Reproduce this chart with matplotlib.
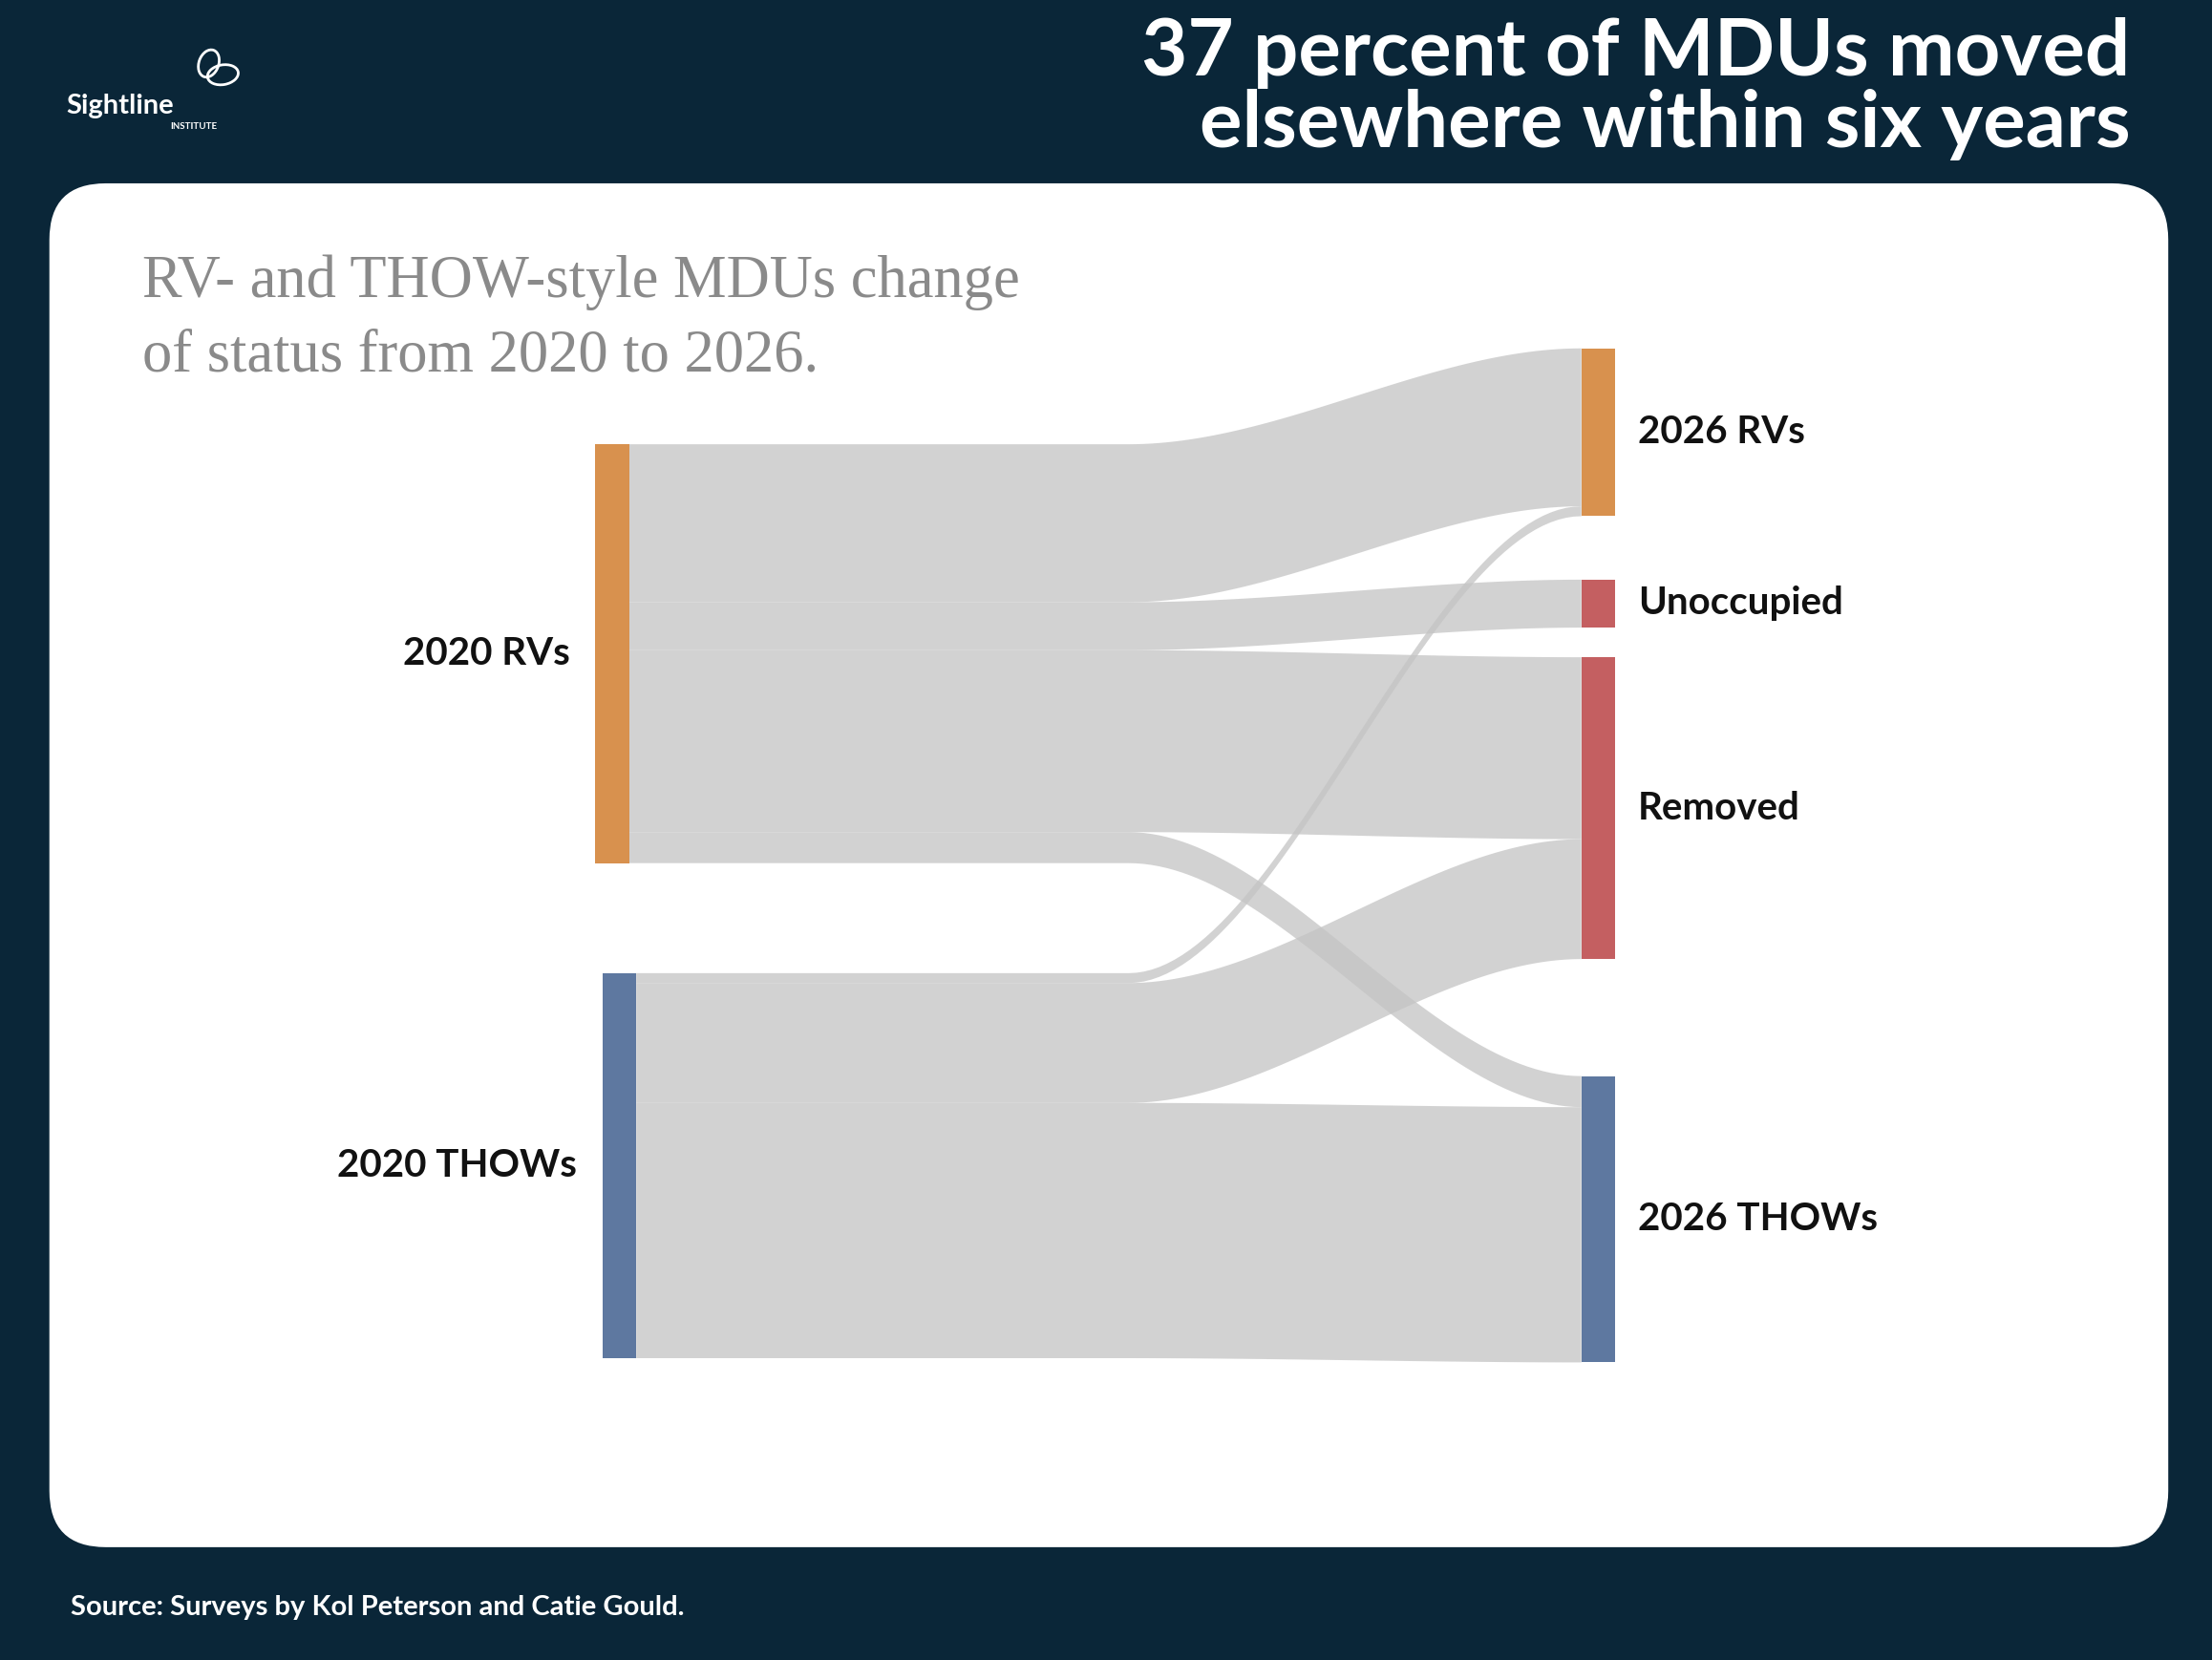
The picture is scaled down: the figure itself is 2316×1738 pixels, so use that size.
import matplotlib.pyplot as plt
import numpy as np
from matplotlib.patches import FancyBboxPatch, Rectangle, Polygon, Ellipse

# data (units)
sources = ['2020 RVs', '2020 THOWs']
targets = ['2026 RVs', 'Unoccupied', 'Removed', '2026 THOWs']
flows = [  # (source, target, value)
    (0, 0, 112), (0, 1, 34), (0, 2, 129), (0, 3, 22),
    (1, 0, 7), (1, 2, 85), (1, 3, 181),
]
src_colors = ['#d8914e', '#5e78a0']
tgt_colors = ['#d8914e', '#c45f61', '#c45f61', '#5e78a0']

W, H = 1568, 1177
fig = plt.figure(figsize=(23.16, 17.38), dpi=100)
ax = fig.add_axes([0, 0, 1, 1])
ax.set_xlim(0, W)
ax.set_ylim(H, 0)
ax.axis('off')
fig.patch.set_facecolor('#0a2638')

ax.add_patch(FancyBboxPatch((35 + 40, 130 + 40), 1502 - 80, 967 - 80,
                            boxstyle='round,pad=40', fc='white', ec='none'))

# layout
src_top = [315, 690]
src_x = [422, 427]
tgt_gap = [0, 45, 21, 83]
nw = 24
tgt_x = 1121
src_val = [sum(v for s, t, v in flows if s == i) for i in range(2)]
tgt_val = [sum(v for s, t, v in flows if t == j) for j in range(4)]
tgt_top = []
y = 247
for j in range(4):
    y += tgt_gap[j]
    tgt_top.append(y)
    y += tgt_val[j]

s_off = list(src_top)
t_off = list(tgt_top)
order = sorted(range(len(flows)), key=lambda k: (flows[k][1], flows[k][0]))
t_pos = {}
for k in order:
    s, t, v = flows[k]
    t_pos[k] = t_off[t]
    t_off[t] += v
xa, xb = 800, tgt_x
tt = np.linspace(0, 1, 60)
sig = 3 * tt**2 - 2 * tt**3
for k, (s, t, v) in enumerate(flows):
    y0 = s_off[s]
    s_off[s] += v
    y1 = t_pos[k]
    x0 = src_x[s] + nw
    xs = np.concatenate([[x0], xa + (xb - xa) * tt])
    top = np.concatenate([[y0], y0 + (y1 - y0) * sig])
    bot = top + v
    pts = np.vstack([np.column_stack([xs, top]), np.column_stack([xs[::-1], bot[::-1]])])
    ax.add_patch(Polygon(pts, closed=True, fc='#c4c4c4', ec='none', alpha=0.75, zorder=2))

lab = dict(fontsize=29, fontweight='bold', family='Lato', color='#111111', va='center')
for i in range(2):
    ax.add_patch(Rectangle((src_x[i], src_top[i]), nw, src_val[i], fc=src_colors[i], ec='none', zorder=3))
    ax.text(src_x[i] - 18, src_top[i] + src_val[i] / 2, sources[i], ha='right', **lab)
for j in range(4):
    ax.add_patch(Rectangle((tgt_x, tgt_top[j]), nw, tgt_val[j], fc=tgt_colors[j], ec='none', zorder=3))
    ax.text(tgt_x + nw + 16, tgt_top[j] + tgt_val[j] / 2, targets[j], ha='left', **lab)

sub = dict(fontsize=45, family='Liberation Serif', color='#8a8a8a', va='center')
ax.text(101, 200, 'RV- and THOW-style MDUs change', **sub)
ax.text(101, 253, 'of status from 2020 to 2026.', **sub)

ax.text(1510, 63, '37 percent of MDUs moved\nelsewhere within six years', ha='right', va='center',
        fontsize=60, fontweight='bold', family='Lato', color='white', linespacing=1.0)

ax.text(50, 1140, 'Source: Surveys by Kol Peterson and Catie Gould.', fontsize=21,
        fontweight='bold', family='Lato', color='white', va='center')

# logo
ax.text(47, 75, 'Sightline', fontsize=21, fontweight='bold', family='Lato', color='white', va='center')
ax.text(154, 90, 'INSTITUTE', fontsize=7, fontweight='bold', family='Lato', color='white',
        va='center', ha='right')
for cx, cy, w, h, a in [(148, 45, 14, 20, 20), (158, 53, 22, 14, -10)]:
    ax.add_patch(Ellipse((cx, cy), w, h, angle=a, fc='none', ec='white', lw=2))

fig.savefig('out.png', dpi=100, facecolor=fig.get_facecolor())
